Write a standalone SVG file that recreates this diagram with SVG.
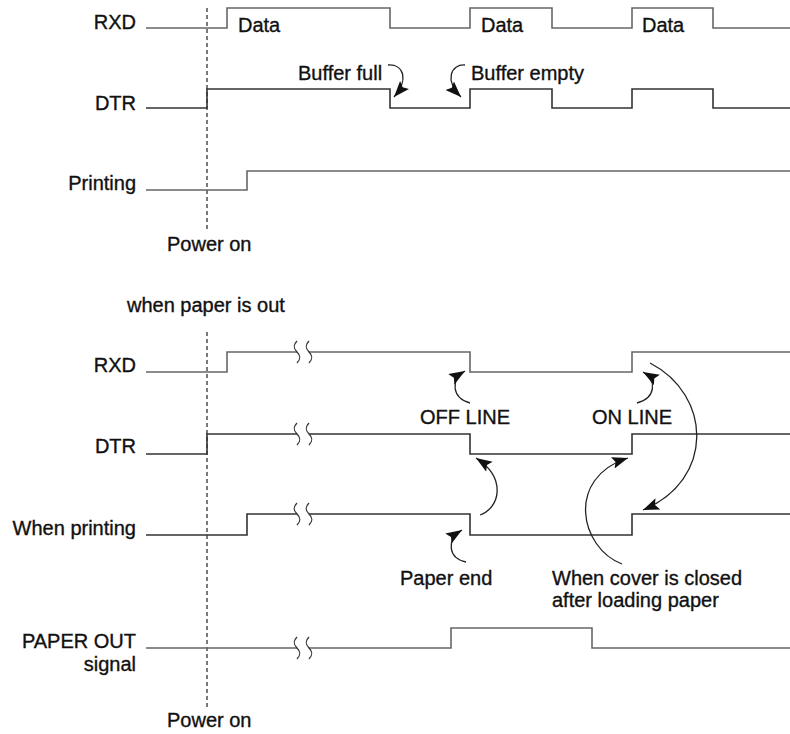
<svg xmlns="http://www.w3.org/2000/svg" xmlns:xlink="http://www.w3.org/1999/xlink" width="790" height="734" viewBox="0 0 790 734">
<style>
text{font-family:"Liberation Sans",Arial,sans-serif;font-size:20px;fill:#111;stroke:#111;stroke-width:0.35}
.lbl{text-anchor:end}
.sig{fill:none;stroke:#333;stroke-width:1.6}
.sigl{fill:none;stroke:#666;stroke-width:1.6}
.dash{fill:none;stroke:#333;stroke-width:1.3;stroke-dasharray:4 3}
.arr{fill:none;stroke:#222;stroke-width:1.3;marker-end:url(#ah)}
.brk{fill:none;stroke:#333;stroke-width:1.3}
</style>
<defs>
<marker id="ah" markerUnits="userSpaceOnUse" markerWidth="18" markerHeight="14" refX="16" refY="6" orient="auto">
<path d="M0,0 L16,6 L0,12 L3,6 z" fill="#111"/>
</marker>
<path id="bk" d="M0,-11 c-4,4 -4,7 0,11 c4,4 4,7 0,11"/>
</defs>
<rect width="790" height="734" fill="#fff"/>

<g id="top-section">
<line class="dash" x1="207" y1="8" x2="207" y2="230"/>
<g id="top-rxd">
<text class="lbl" x="136" y="29">RXD</text>
<path class="sigl" d="M146,28 H227 V8 H390 V28 H470 V8 H552 V28 H632 V8 H713 V28 H790"/>
<text x="238" y="32">Data</text>
<text x="481" y="32">Data</text>
<text x="642" y="32">Data</text>
</g>
<g id="top-dtr">
<text class="lbl" x="136" y="110">DTR</text>
<path class="sig" d="M146,108 H207 V89 H390 V108 H470 V89 H552 V108 H632 V89 H713 V108 H790"/>
<text x="298" y="80">Buffer full</text>
<text x="471" y="80">Buffer empty</text>
</g>
<g id="top-printing">
<text class="lbl" x="136" y="190">Printing</text>
<path class="sigl" d="M146,190 H247 V171 H790"/>
</g>
<text x="167" y="251">Power on</text>
</g>

<text x="127" y="312">when paper is out</text>

<g id="bottom-section">
<line class="dash" x1="207" y1="332" x2="207" y2="707"/>
<g id="bot-rxd">
<text class="lbl" x="136" y="372">RXD</text>
<path class="sigl" d="M146,372 H227 V352 H297 M309,352 H470 V372 H632 V352 H790"/>
<use xlink:href="#bk" class="brk" x="297" y="352"/>
<use xlink:href="#bk" class="brk" x="309" y="352"/>
</g>
<g id="bot-dtr">
<text class="lbl" x="136" y="453">DTR</text>
<path class="sig" d="M146,454 H207 V434 H297 M309,434 H470 V454 H632 V434 H790"/>
<use xlink:href="#bk" class="brk" x="297" y="434"/>
<use xlink:href="#bk" class="brk" x="309" y="434"/>
</g>
<g id="bot-printing">
<text class="lbl" x="136" y="535">When printing</text>
<path class="sig" d="M146,535 H247 V514 H297 M309,514 H470 V535 H632 V514 H790"/>
<use xlink:href="#bk" class="brk" x="297" y="514"/>
<use xlink:href="#bk" class="brk" x="309" y="514"/>
</g>
<g id="bot-paperout">
<text class="lbl" x="136" y="648">PAPER OUT</text>
<text class="lbl" x="136" y="671">signal</text>
<path class="sigl" d="M146,648 H297 M309,648 H451 V628 H592 V648 H790"/>
<use xlink:href="#bk" class="brk" x="297" y="648"/>
<use xlink:href="#bk" class="brk" x="309" y="648"/>
</g>
<text x="420" y="424">OFF LINE</text>
<text x="592" y="424">ON LINE</text>
<text x="400" y="585">Paper end</text>
<text x="552" y="585">When cover is closed</text>
<text x="552" y="607">after loading paper</text>
<text x="167" y="727">Power on</text>
</g>

<g id="connectors">
<path class="arr" d="M388,65 C404,64 409,80 394,97"/>
<path class="arr" d="M465,65 C451,64 444,80 461,97"/>
<path class="arr" d="M470,403 C452,398 450,380 465,371"/>
<path class="arr" d="M637,403 C656,398 657,380 643,372"/>
<path class="arr" d="M650,363 C712,395 715,480 643,510"/>
<path class="arr" d="M480,515 C500,508 507,478 476,458"/>
<path class="arr" d="M622,564 C580,548 565,478 628,458"/>
<path class="arr" d="M466,562 C448,558 446,540 462,530"/>
</g>
</svg>
